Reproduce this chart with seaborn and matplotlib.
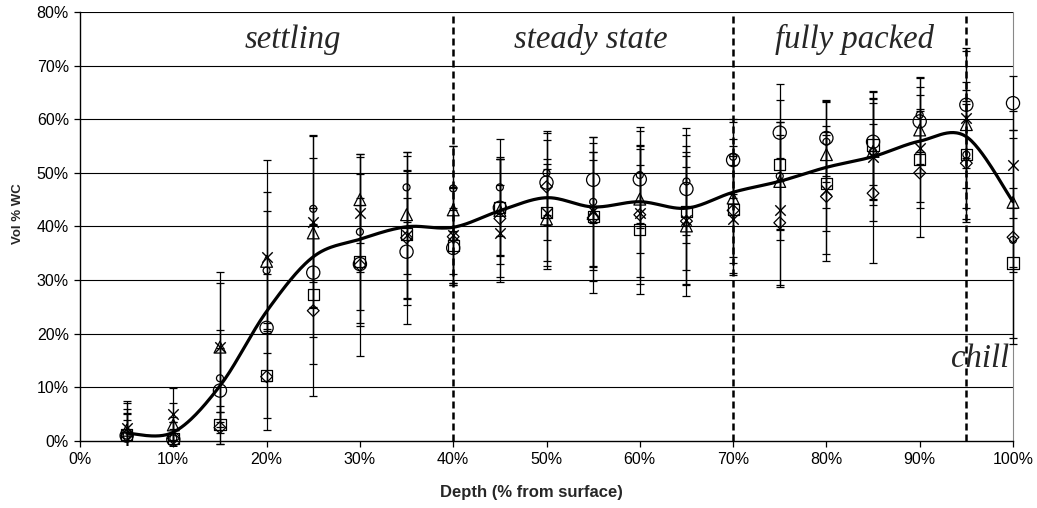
import numpy as np
import pandas as pd
import matplotlib
matplotlib.use("Agg")
import matplotlib.pyplot as plt
import seaborn as sns
from matplotlib.ticker import FuncFormatter
from matplotlib.patches import Rectangle

# ---------------- data (Vol % WC vs depth %) ----------------
depth = [5, 10, 15, 20, 25, 30, 35, 40, 45, 50, 55, 60, 65, 70, 75, 80, 85, 90, 95, 100]

s_circle   = [1.0, 0.3, 9.4, 21.1, 31.4, 33.0, 35.3, 36.0, 43.5, 48.2, 48.7, 48.8, 47.0, 52.4, 57.5, 56.5, 55.8, 59.6, 62.7, 63.0]
s_square   = [1.2, 0.5, 3.0, 12.2, 27.4, 33.4, 38.6, 36.4, 43.6, 42.6, 41.8, 39.5, 42.8, 43.2, 51.5, 48.1, 55.2, 52.5, 53.4, 33.2]
s_triangle = [2.0, 3.0, 17.5, 33.5, 38.8, 45.0, 42.2, 43.1, 43.0, 41.4, 42.4, 45.1, 40.1, 45.3, 48.4, 53.4, 54.0, 58.0, 59.0, 44.5]
s_x        = [2.5, 5.0, 17.6, 34.4, 40.9, 42.5, 38.4, 38.4, 38.7, 42.6, 42.8, 42.5, 41.2, 41.4, 43.1, 46.8, 53.0, 54.6, 60.2, 51.5]
s_diamond  = [1.0, 0.5, 2.5, 12.0, 24.3, 32.8, 37.9, 38.1, 41.5, 47.4, 41.6, 42.2, 41.0, 43.0, 40.7, 45.6, 46.2, 50.0, 51.8, 38.0]
s_small    = [1.0, 0.5, 11.7, 31.8, 43.3, 39.0, 47.3, 47.1, 47.3, 50.0, 44.6, 49.6, 48.4, 53.0, 49.4, 55.8, 54.0, 60.8, 53.4, 37.5]

e_circle   = [3, 2, 8, 10, 12, 11, 10, 7, 9, 8, 8, 9, 10, 7, 9, 7, 8, 8, 10, 5]
e_square   = [4, 3, 3.5, 8, 13, 12, 12, 7, 9, 10, 12, 12, 11, 10, 12, 9, 10, 9, 12, 14]
e_triangle = [5, 4, 12, 13, 14, 8, 11, 12, 10, 9.4, 10, 10, 11, 11, 11, 10, 9, 8, 8, 12]
e_x        = [5, 4.8, 14, 18, 16, 11, 12, 9, 9, 9, 11, 12, 12, 10, 14, 12, 12, 10, 13, 10]
e_diamond  = [5, 4, 3, 10, 16, 17, 16, 9, 11, 10, 14, 13, 14, 12, 12, 12, 13, 12, 11, 20]
e_small    = [4, 3, 9, 11, 13.7, 14.5, 6.5, 8, 9, 7.8, 12, 9, 10, 7, 10, 7.5, 10, 7, 10, 6]

phase_bounds = [40, 70, 95]
phase_labels = ["settling", "steady state", "fully packed", "chill"]
phase_pos = [(22.8, 74.8), (54.7, 74.8), (83.0, 74.8), (96.5, 15.3)]

x_label = "Depth (% from surface)"
y_label = "Vol % WC"

# ---------------- figure ----------------
sns.set_theme(style="white")
plt.rcParams["font.family"] = ["Liberation Sans", "DejaVu Sans"]

fig = plt.figure(figsize=(10.37, 5.08), dpi=100)
ax = fig.add_axes([80 / 1037, 1 - 441 / 508, 933 / 1037, 429 / 508])

clip_rect = Rectangle((-0.02, -0.012), 1.04, 1.03, transform=ax.transAxes,
                      facecolor="none", edgecolor="none")
ax.add_patch(clip_rect)

series = [
    (s_circle, e_circle, "o", 9.5, 0.9),
    (s_square, e_square, "s", 8.0, 0.9),
    (s_triangle, e_triangle, "^", 8.5, 0.9),
    (s_x, e_x, "x", 7.5, 1.0),
    (s_diamond, e_diamond, "D", 6.0, 0.9),
    (s_small, e_small, "o", 5.0, 0.9),
]

frames = []
for i, (vals, errs, mk, ms, lw) in enumerate(series):
    eb = ax.errorbar(depth, vals, yerr=errs, fmt="none", ecolor="black",
                     elinewidth=0.9, capsize=3, capthick=0.9, zorder=3)
    for art in list(eb.lines[1]) + list(eb.lines[2]):
        art.set_clip_path(clip_rect)
    df = pd.DataFrame({"depth": depth, "val": vals})
    frames.append(df.assign(series=i))
    if mk == "x":
        sc = sns.scatterplot(data=df, x="depth", y="val", marker=mk, s=ms ** 2,
                             color="black", linewidth=lw, ax=ax, zorder=4, legend=False)
    else:
        sc = sns.scatterplot(data=df, x="depth", y="val", marker=mk, s=ms ** 2,
                             facecolor="none", edgecolor="black", linewidth=lw,
                             ax=ax, zorder=4, legend=False)
    sc.collections[-1].set_clip_on(False)

# mean of the series, drawn as a smoothed (Catmull-Rom) line like Excel
mean = pd.concat(frames).groupby("depth")["val"].mean()
px = np.array(mean.index, dtype=float)
py = mean.values.astype(float)
P = np.column_stack([px, py])
Pp = np.vstack([P[0], P, P[-1]])
sx, sy = [], []
t = np.linspace(0, 1, 30)
for k in range(len(P) - 1):
    p0, p1, p2, p3 = Pp[k], Pp[k + 1], Pp[k + 2], Pp[k + 3]
    c1 = p1 + (p2 - p0) / 6
    c2 = p2 - (p3 - p1) / 6
    b = ((1 - t) ** 3)[:, None] * p1 + (3 * (1 - t) ** 2 * t)[:, None] * c1 \
        + (3 * (1 - t) * t ** 2)[:, None] * c2 + (t ** 3)[:, None] * p2
    sx.extend(b[:, 0]); sy.extend(b[:, 1])
curve = pd.DataFrame({"x": sx, "y": sy})
sns.lineplot(data=curve, x="x", y="y", sort=False, color="black", linewidth=2.3,
             ax=ax, zorder=5, estimator=None)
ax.lines[-1].set_clip_on(False)

# phase boundaries
for b in phase_bounds:
    ax.axvline(b, color="black", linewidth=1.8, linestyle=(0, (2.8, 1.6)), zorder=6)

for lab, (xx, yy) in zip(phase_labels, phase_pos):
    ax.text(xx, yy, lab, ha="center", va="center", fontsize=23.5,
            family=["Liberation Serif", "DejaVu Serif"], style="italic", zorder=7)

# axes styling
ax.set_xlim(0, 100)
ax.set_ylim(0, 80)
ax.set_xticks(np.arange(0, 101, 10))
ax.set_yticks(np.arange(0, 81, 10))
ax.xaxis.set_major_formatter(FuncFormatter(lambda v, p: f"{v:.0f}%"))
ax.yaxis.set_major_formatter(FuncFormatter(lambda v, p: f"{v:.0f}%"))
ax.grid(False)
for yv in np.arange(10, 81, 10):
    ax.axhline(yv, color="black", linewidth=0.8, zorder=1)
ax.spines["top"].set_visible(False)
ax.spines["right"].set_color("#888888")
ax.spines["right"].set_linewidth(0.8)
ax.spines["left"].set_color("black")
ax.spines["bottom"].set_color("black")
ax.spines["left"].set_linewidth(1.0)
ax.spines["bottom"].set_linewidth(1.0)
ax.tick_params(axis="both", which="major", direction="out", length=4, width=0.9,
               color="black", labelsize=11.5, labelcolor="black", pad=4,
               bottom=True, left=True)
ax.set_xlabel(x_label, fontsize=12, fontweight="bold")
ax.set_ylabel(y_label, fontsize=9.5, fontweight="bold")
ax.xaxis.set_label_coords((531 - 80) / 933, -(493 - 441) / 429)
ax.yaxis.set_label_coords((18 - 80) / 933, (441 - 214) / 429)
ax.xaxis.label.set_va("center")
ax.yaxis.label.set_va("center")
ax.set_facecolor("white")
fig.patch.set_facecolor("white")

fig.savefig("out.png", dpi=100)
